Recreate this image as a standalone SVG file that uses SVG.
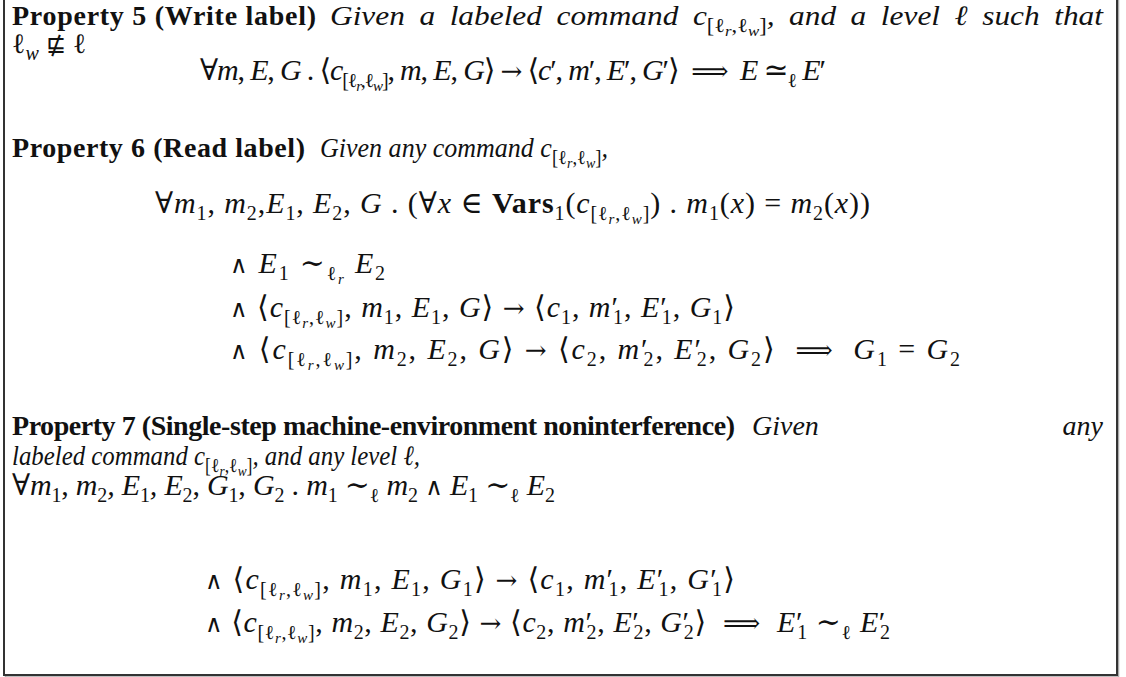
<svg xmlns="http://www.w3.org/2000/svg" width="1126" height="677" viewBox="0 0 1126 677">
<style>
.t{font-family:"Liberation Serif","DejaVu Serif",serif;font-size:28px;fill:#111}
.m{font-size:30px}
.b{font-weight:bold}
.i{font-style:italic}
.v{font-style:italic}
.s{font-size:20px;font-style:normal;font-weight:normal}
.si{font-size:20px;font-style:italic}
.ss{font-size:15px;font-style:italic}
.a{font-family:"DejaVu Serif",serif;font-size:26px}
.n{font-family:"DejaVu Sans",sans-serif;font-size:24px}
.w{font-family:"DejaVu Serif",serif;font-size:24px}
.box{fill:#fff;stroke:#333;stroke-width:2}
.shadow{fill:none;stroke:#aaa;stroke-width:1.5}
</style>
<rect width="1126" height="677" fill="#fff"/>
<g id="frame">
<rect class="shadow" x="5.5" y="-8" width="1113" height="685"/>
<rect class="box" x="4" y="-10" width="1113" height="685"/>
</g>
<g id="property5">
<text class="t b" x="12" y="25" textLength="304" lengthAdjust="spacing">Property 5 (Write label)</text>
<text class="t i" x="330" y="25" word-spacing="6" textLength="773" lengthAdjust="spacingAndGlyphs">Given a labeled command c<tspan class="s" dy="7">[ℓ</tspan><tspan class="ss" dy="4">r</tspan><tspan class="s" dy="-4">,ℓ</tspan><tspan class="ss" dy="4">w</tspan><tspan class="s" dy="-4">]</tspan><tspan dy="-7">, and a level ℓ such that</tspan></text>
<text class="t" x="12" y="53">ℓ<tspan class="si" dy="7">w</tspan><tspan dy="-7"> </tspan><tspan class="n">⋢</tspan> ℓ</text>
<text class="t m" x="200" y="80" textLength="626" lengthAdjust="spacing">∀<tspan class="v">m</tspan>, <tspan class="v">E</tspan>, <tspan class="v">G</tspan> . ⟨<tspan class="v">c</tspan><tspan class="s" dy="7">[ℓ</tspan><tspan class="ss" dy="4">r</tspan><tspan class="s" dy="-4">,ℓ</tspan><tspan class="ss" dy="4">w</tspan><tspan class="s" dy="-4">]</tspan><tspan dy="-7">, </tspan><tspan class="v">m</tspan>, <tspan class="v">E</tspan>, <tspan class="v">G</tspan>⟩ <tspan class="a">→</tspan> ⟨<tspan class="v">c</tspan>′, <tspan class="v">m</tspan>′, <tspan class="v">E</tspan>′, <tspan class="v">G</tspan>′⟩ &#160;<tspan class="a">⟹</tspan>&#160; <tspan class="v">E</tspan> ≃<tspan class="s" dy="7">ℓ</tspan><tspan dy="-7"> </tspan><tspan class="v">E</tspan>′</text>
</g>
<g id="property6">
<text class="t b" x="12" y="157" textLength="293" lengthAdjust="spacing">Property 6 (Read label)</text>
<text class="t i" x="320" y="157" textLength="288" lengthAdjust="spacingAndGlyphs">Given any command c<tspan class="s" dy="7">[ℓ</tspan><tspan class="ss" dy="4">r</tspan><tspan class="s" dy="-4">,ℓ</tspan><tspan class="ss" dy="4">w</tspan><tspan class="s" dy="-4">]</tspan><tspan dy="-7">,</tspan></text>
<text class="t m" x="155" y="213" textLength="715" lengthAdjust="spacing">∀<tspan class="v">m</tspan><tspan class="s" dy="7">1</tspan><tspan dy="-7">, </tspan><tspan class="v">m</tspan><tspan class="s" dy="7">2</tspan><tspan dy="-7">,</tspan><tspan class="v">E</tspan><tspan class="s" dy="7">1</tspan><tspan dy="-7">, </tspan><tspan class="v">E</tspan><tspan class="s" dy="7">2</tspan><tspan dy="-7">, </tspan><tspan class="v">G</tspan> . (∀<tspan class="v">x</tspan> ∈ <tspan class="b">Vars</tspan><tspan class="s" dy="7">1</tspan><tspan dy="-7">(</tspan><tspan class="v">c</tspan><tspan class="s" dy="7">[ℓ</tspan><tspan class="ss" dy="4">r</tspan><tspan class="s" dy="-4">,ℓ</tspan><tspan class="ss" dy="4">w</tspan><tspan class="s" dy="-4">]</tspan><tspan dy="-7">) . </tspan><tspan class="v">m</tspan><tspan class="s" dy="7">1</tspan><tspan dy="-7">(</tspan><tspan class="v">x</tspan>) = <tspan class="v">m</tspan><tspan class="s" dy="7">2</tspan><tspan dy="-7">(</tspan><tspan class="v">x</tspan>))</text>
<text class="t m" x="230" y="273" textLength="155" lengthAdjust="spacing"><tspan class="w">∧</tspan> <tspan class="v">E</tspan><tspan class="s" dy="7">1</tspan><tspan dy="-7"> ∼</tspan><tspan class="s" dy="7">ℓ</tspan><tspan class="ss" dy="4">r</tspan><tspan dy="-11"> </tspan><tspan class="v">E</tspan><tspan class="s" dy="7">2</tspan></text>
<text class="t m" x="230" y="317" textLength="505" lengthAdjust="spacing"><tspan class="w">∧</tspan> ⟨<tspan class="v">c</tspan><tspan class="s" dy="7">[ℓ</tspan><tspan class="ss" dy="4">r</tspan><tspan class="s" dy="-4">,ℓ</tspan><tspan class="ss" dy="4">w</tspan><tspan class="s" dy="-4">]</tspan><tspan dy="-7">, </tspan><tspan class="v">m</tspan><tspan class="s" dy="7">1</tspan><tspan dy="-7">, </tspan><tspan class="v">E</tspan><tspan class="s" dy="7">1</tspan><tspan dy="-7">, </tspan><tspan class="v">G</tspan>⟩ <tspan class="a">→</tspan> ⟨<tspan class="v">c</tspan><tspan class="s" dy="7">1</tspan><tspan dy="-7">, </tspan><tspan class="v">m</tspan>′<tspan class="s" dx="-6" dy="7">1</tspan><tspan dy="-7">, </tspan><tspan class="v">E</tspan>′<tspan class="s" dx="-6" dy="7">1</tspan><tspan dy="-7">, </tspan><tspan class="v">G</tspan><tspan class="s" dy="7">1</tspan><tspan dy="-7">⟩</tspan></text>
<text class="t m" x="230" y="359" textLength="730" lengthAdjust="spacing"><tspan class="w">∧</tspan> ⟨<tspan class="v">c</tspan><tspan class="s" dy="7">[ℓ</tspan><tspan class="ss" dy="4">r</tspan><tspan class="s" dy="-4">,ℓ</tspan><tspan class="ss" dy="4">w</tspan><tspan class="s" dy="-4">]</tspan><tspan dy="-7">, </tspan><tspan class="v">m</tspan><tspan class="s" dy="7">2</tspan><tspan dy="-7">, </tspan><tspan class="v">E</tspan><tspan class="s" dy="7">2</tspan><tspan dy="-7">, </tspan><tspan class="v">G</tspan>⟩ <tspan class="a">→</tspan> ⟨<tspan class="v">c</tspan><tspan class="s" dy="7">2</tspan><tspan dy="-7">, </tspan><tspan class="v">m</tspan>′<tspan class="s" dx="-6" dy="7">2</tspan><tspan dy="-7">, </tspan><tspan class="v">E</tspan>′<tspan class="s" dx="-6" dy="7">2</tspan><tspan dy="-7">, </tspan><tspan class="v">G</tspan><tspan class="s" dy="7">2</tspan><tspan dy="-7">⟩ &#160;</tspan><tspan class="a">⟹</tspan>&#160; <tspan class="v">G</tspan><tspan class="s" dy="7">1</tspan><tspan dy="-7"> = </tspan><tspan class="v">G</tspan><tspan class="s" dy="7">2</tspan></text>
</g>
<g id="property7">
<text class="t b" x="12" y="435" textLength="723" lengthAdjust="spacing">Property 7 (Single-step machine-environment noninterference)</text>
<text class="t i" x="752" y="435">Given</text>
<text class="t i" x="1103" y="435" text-anchor="end">any</text>
<text class="t i" x="12" y="465" textLength="408" lengthAdjust="spacingAndGlyphs">labeled command c<tspan class="s" dy="7">[ℓ</tspan><tspan class="ss" dy="4">r</tspan><tspan class="s" dy="-4">,ℓ</tspan><tspan class="ss" dy="4">w</tspan><tspan class="s" dy="-4">]</tspan><tspan dy="-7">, and any level ℓ,</tspan></text>
<text class="t m" x="12" y="495" textLength="543" lengthAdjust="spacing">∀<tspan class="v">m</tspan><tspan class="s" dy="7">1</tspan><tspan dy="-7">, </tspan><tspan class="v">m</tspan><tspan class="s" dy="7">2</tspan><tspan dy="-7" class="v">, E</tspan><tspan class="s" dy="7">1</tspan><tspan dy="-7" class="v">, E</tspan><tspan class="s" dy="7">2</tspan><tspan dy="-7">, </tspan><tspan class="v">G</tspan><tspan class="s" dy="7">1</tspan><tspan dy="-7">, </tspan><tspan class="v">G</tspan><tspan class="s" dy="7">2</tspan><tspan dy="-7"> . </tspan><tspan class="v">m</tspan><tspan class="s" dy="7">1</tspan><tspan dy="-7"> ∼</tspan><tspan class="s" dy="7">ℓ</tspan><tspan dy="-7"> </tspan><tspan class="v">m</tspan><tspan class="s" dy="7">2</tspan><tspan dy="-7"> </tspan><tspan class="w">∧</tspan> <tspan class="v">E</tspan><tspan class="s" dy="7">1</tspan><tspan dy="-7"> ∼</tspan><tspan class="s" dy="7">ℓ</tspan><tspan dy="-7"> </tspan><tspan class="v">E</tspan><tspan class="s" dy="7">2</tspan></text>
<text class="t m" x="205" y="589" textLength="530" lengthAdjust="spacing"><tspan class="w">∧</tspan> ⟨<tspan class="v">c</tspan><tspan class="s" dy="7">[ℓ</tspan><tspan class="ss" dy="4">r</tspan><tspan class="s" dy="-4">,ℓ</tspan><tspan class="ss" dy="4">w</tspan><tspan class="s" dy="-4">]</tspan><tspan dy="-7">, </tspan><tspan class="v">m</tspan><tspan class="s" dy="7">1</tspan><tspan dy="-7">, </tspan><tspan class="v">E</tspan><tspan class="s" dy="7">1</tspan><tspan dy="-7">, </tspan><tspan class="v">G</tspan><tspan class="s" dy="7">1</tspan><tspan dy="-7">⟩ </tspan><tspan class="a">→</tspan> ⟨<tspan class="v">c</tspan><tspan class="s" dy="7">1</tspan><tspan dy="-7">, </tspan><tspan class="v">m</tspan>′<tspan class="s" dx="-6" dy="7">1</tspan><tspan dy="-7">, </tspan><tspan class="v">E</tspan>′<tspan class="s" dx="-6" dy="7">1</tspan><tspan dy="-7">, </tspan><tspan class="v">G</tspan>′<tspan class="s" dx="-6" dy="7">1</tspan><tspan dy="-7">⟩</tspan></text>
<text class="t m" x="205" y="632" textLength="685" lengthAdjust="spacing"><tspan class="w">∧</tspan> ⟨<tspan class="v">c</tspan><tspan class="s" dy="7">[ℓ</tspan><tspan class="ss" dy="4">r</tspan><tspan class="s" dy="-4">,ℓ</tspan><tspan class="ss" dy="4">w</tspan><tspan class="s" dy="-4">]</tspan><tspan dy="-7">, </tspan><tspan class="v">m</tspan><tspan class="s" dy="7">2</tspan><tspan dy="-7">, </tspan><tspan class="v">E</tspan><tspan class="s" dy="7">2</tspan><tspan dy="-7">, </tspan><tspan class="v">G</tspan><tspan class="s" dy="7">2</tspan><tspan dy="-7">⟩ </tspan><tspan class="a">→</tspan> ⟨<tspan class="v">c</tspan><tspan class="s" dy="7">2</tspan><tspan dy="-7">, </tspan><tspan class="v">m</tspan>′<tspan class="s" dx="-6" dy="7">2</tspan><tspan dy="-7">, </tspan><tspan class="v">E</tspan>′<tspan class="s" dx="-6" dy="7">2</tspan><tspan dy="-7">, </tspan><tspan class="v">G</tspan>′<tspan class="s" dx="-6" dy="7">2</tspan><tspan dy="-7">⟩ &#160;</tspan><tspan class="a">⟹</tspan>&#160; <tspan class="v">E</tspan>′<tspan class="s" dx="-6" dy="7">1</tspan><tspan dy="-7"> ∼</tspan><tspan class="s" dy="7">ℓ</tspan><tspan dy="-7"> </tspan><tspan class="v">E</tspan>′<tspan class="s" dx="-6" dy="7">2</tspan></text>
</g>
</svg>
